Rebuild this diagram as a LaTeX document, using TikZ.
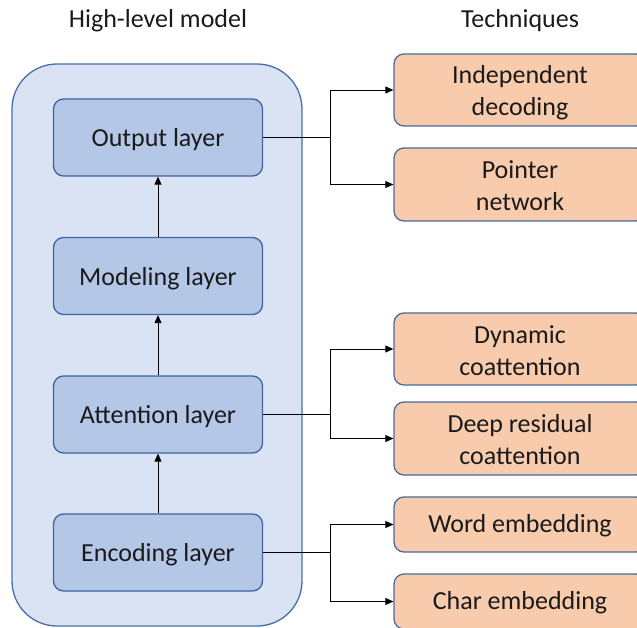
\documentclass[tikz,border=0pt]{standalone}
\usepackage{fontspec}
\setmainfont{Carlito}
\usetikzlibrary{arrows.meta}

\definecolor{panelfill}{HTML}{DAE3F3}
\definecolor{panelline}{HTML}{4A6FA8}
\definecolor{layerfill}{HTML}{B4C7E7}
\definecolor{layerline}{HTML}{3E64A0}
\definecolor{techfill}{HTML}{F8CBAD}
\definecolor{techline}{HTML}{4A6A98}
\definecolor{inktext}{HTML}{1A1A1A}

\tikzset{
  txt/.style={font=\fontsize{26}{32}\selectfont, text=inktext, text depth=5.5pt},
  heading/.style={txt, text height=22.5pt},
  layerbox/.style={txt, text height=24pt, draw=layerline, fill=layerfill, line width=1.3pt,
    rounded corners=10pt, minimum width=209pt, minimum height=77pt, inner sep=0pt},
  techbox/.style={txt, draw=techline, fill=techfill, line width=1.3pt,
    rounded corners=10pt, minimum width=252pt, align=center, inner sep=0pt},
  oneline/.style={techbox, text height=20.5pt, minimum height=55pt},
  twoline/.style={techbox, text height=57.5pt},
  flow/.style={draw=black, line width=0.9pt, -{Triangle[length=8pt,width=7pt]}},
  link/.style={draw=black, line width=0.9pt},
}

\begin{document}
\begin{tikzpicture}[x=1pt,y=-1pt]
  \useasboundingbox (0,0) rectangle (637,628);
  \clip (0,0) rectangle (637,628);

  % column headings
  \node[heading] (hmodel) at (158,18.8) {High-level model};
  \node[heading] (htech) at (520,18.8) {Techniques};

  % model panel
  \node[draw=panelline, fill=panelfill, line width=1.3pt, rounded corners=45pt,
        minimum width=290pt, minimum height=562pt, inner sep=0pt] (panel) at (157,345) {};

  % layers
  \node[layerbox] (out) at (158,137.5) {Output layer};
  \node[layerbox] (mod) at (158,276) {Modeling layer};
  \node[layerbox] (att) at (158,414.5) {Attention layer};
  \node[layerbox] (enc) at (158,552.5) {Encoding layer};

  \draw[flow] (enc) -- (att);
  \draw[flow] (att) -- (mod);
  \draw[flow] (mod) -- (out);

  % techniques
  \node[twoline, minimum height=72pt] (indep) at (520,90) {Independent\\decoding};
  \node[twoline, minimum height=73pt] (ptr) at (520,184.5) {Pointer\\network};
  \node[twoline, minimum height=72pt] (dyn) at (520,349) {Dynamic\\coattention};
  \node[twoline, minimum height=73pt] (deep) at (520,438.5) {Deep residual\\coattention};
  \node[oneline] (word) at (520,524.5) {Word embedding};
  \node[oneline] (char) at (520,601.5) {Char embedding};

  % branching connectors
  \path (out.east) -- ++(67,0) coordinate (j1);
  \path (att.east) -- ++(67,0) coordinate (j2);
  \path (enc.east) -- ++(67,0) coordinate (j3);

  \draw[link] (out.east) -- (j1);
  \draw[flow] (j1) |- (indep.west);
  \draw[flow] (j1) |- (ptr.west);

  \draw[link] (att.east) -- (j2);
  \draw[flow] (j2) |- (dyn.west);
  \draw[flow] (j2) |- (deep.west);

  \draw[link] (enc.east) -- (j3);
  \draw[flow] (j3) |- (word.west);
  \draw[flow] (j3) |- (char.west);
\end{tikzpicture}
\end{document}
